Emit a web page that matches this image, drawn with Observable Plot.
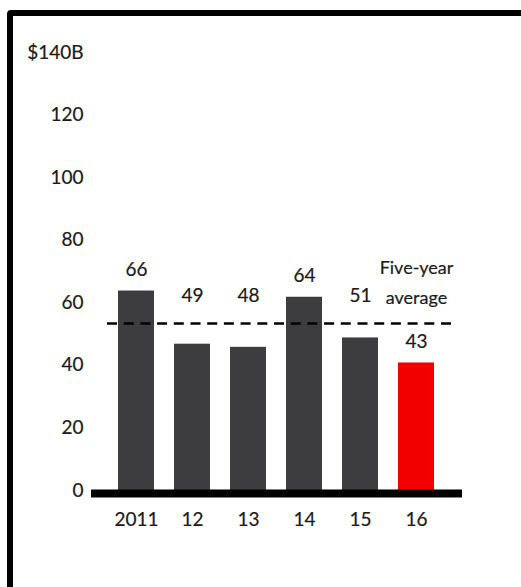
<!DOCTYPE html>
<html>
<head>
<meta charset="utf-8">
<script src="https://cdn.jsdelivr.net/npm/d3@7"></script>
<script src="https://cdn.jsdelivr.net/npm/@observablehq/plot@0.6"></script>
<style>
  html, body { margin: 0; padding: 0; background: #fff; overflow: hidden; }
  #wrap { position: relative; width: 521px; height: 587px; overflow: hidden; }
  #frame { position: absolute; left: 7px; top: 10px; width: 600px; height: 700px;
           border: 6px solid #000; border-radius: 4px; box-sizing: border-box; }
  #chart { position: absolute; left: 0; top: 0; }
  #chart svg text { stroke: #1a1a1a; stroke-width: 0.2px; paint-order: stroke; }
</style>
</head>
<body>
<div id="wrap"><div id="frame"></div><div id="chart"></div></div>
<script>
const years = ["2011", "12", "13", "14", "15", "16"];
const values = [66, 49, 48, 64, 51, 43];
const yTicks = [0, 20, 40, 60, 80, 100, 120, 140];
const avgLabel = ["Five-year", "average"];

const data = years.map((year, i) => ({year, value: values[i]}));
const avg = d3.mean(values.slice(0, 5));
const labelY = v => (Math.abs(v + 6.7 - avg) < 5 ? avg + 2 : v);

const font = "Lato, 'Open Sans', sans-serif";
const ink = "#1a1a1a";

const chart = Plot.plot({
  width: 521,
  height: 587,
  marginLeft: 91,
  marginRight: 59,
  marginTop: 59,
  marginBottom: 90,
  style: {fontFamily: font, color: ink, background: "transparent"},
  x: {type: "band", domain: years, paddingInner: 0.349, paddingOuter: 0.44},
  y: {domain: [0, 140]},
  color: {type: "identity"},
  marks: [
    Plot.axisY({ticks: yTicks, tickSize: 0, tickPadding: 8, dy: -7, fontSize: 19,
      tickFormat: d => d === 140 ? "$140B" : String(d), label: null}),
    Plot.axisX({tickSize: 0, tickPadding: 15, fontSize: 19, label: null}),
    Plot.barY(data, {x: "year", y: "value",
      fill: d => d.year === "16" ? "#f20000" : "#3d3d40"}),
    Plot.ruleY([0], {stroke: "#000", strokeWidth: 8, dy: -4}),
    Plot.ruleY([avg], {stroke: "#000", strokeWidth: 2.4, strokeDasharray: "10,6.7",
      insetLeft: 16, insetRight: 10}),
    Plot.text(data, {x: "year", y: d => labelY(d.value), text: d => String(d.value),
      dy: -21, fontSize: 19, fill: ink}),
    Plot.text([avgLabel[0]], {x: () => "16", y: () => avg, text: d => d,
      dy: -55, fontSize: 18, fill: ink}),
    Plot.text([avgLabel[1]], {x: () => "16", y: () => avg, text: d => d,
      dy: -25, fontSize: 18, fill: ink})
  ]
});
document.getElementById("chart").append(chart);
</script>
</body>
</html>
